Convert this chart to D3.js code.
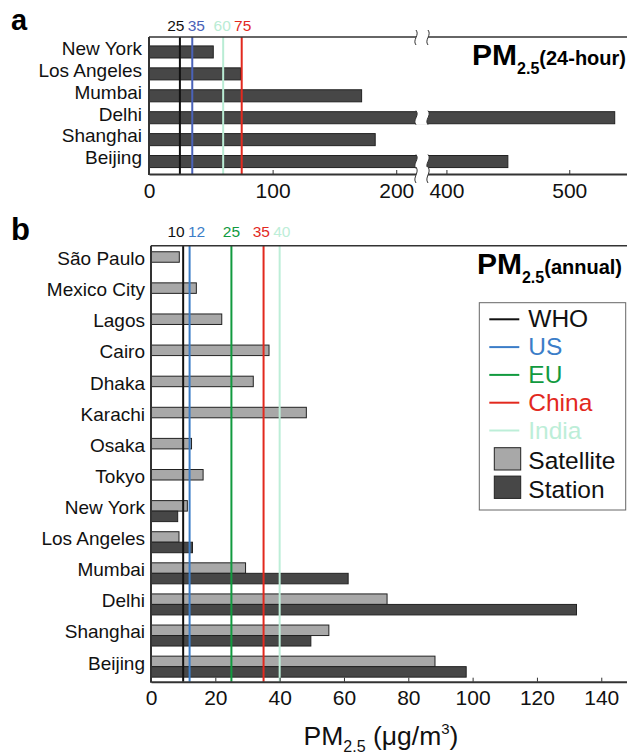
<!DOCTYPE html>
<html>
<head>
<meta charset="utf-8">
<script src="https://cdn.jsdelivr.net/npm/d3@7/dist/d3.min.js"></script>
<style>
  body { margin: 0; background: #fff; }
  svg { font-family: "Liberation Sans", Arial, Helvetica, sans-serif; }
  .axis .domain { stroke: #333; stroke-width: 2; }
  .axis .tick line { stroke: #333; stroke-width: 1; }
  .axis .tick text { font-size: 21px; fill: #111; }
  .ylab .tick text { font-size: 19px; fill: #111; }
</style>
</head>
<body>
<div id="chart"></div>
<script>
// ---- data ----

// panel a: 24-hour PM2.5 (station)
var cities24 = ["New York", "Los Angeles", "Mumbai", "Delhi", "Shanghai", "Beijing"];
var station24 = [52, 74, 172, 537, 183, 450];
var std24Values = [25, 35, 60, 75];
var std24Colors = ["#111111", "#4a62b8", "#b9ecd4", "#e2291e"];
var ticks24 = [0, 100, 200, 400, 500];

// panel b: annual PM2.5
var citiesAnn = ["São Paulo", "Mexico City", "Lagos", "Cairo", "Dhaka", "Karachi", "Osaka", "Tokyo",
                 "New York", "Los Angeles", "Mumbai", "Delhi", "Shanghai", "Beijing"];
var satelliteAnn = [8.8, 14.1, 22.0, 36.7, 31.8, 48.3, 12.6, 16.2, 11.3, 8.7, 29.4, 73.4, 55.3, 88.3];
var stationAnn = [null, null, null, null, null, null, null, null, 8.3, 12.9, 61.3, 132.3, 49.7, 98.0];
var stdAnnNames = ["WHO", "US", "EU", "China", "India"];
var stdAnnValues = [10, 12, 25, 35, 40];
var stdAnnColors = ["#111111", "#3b7dc8", "#119a3f", "#e2291e", "#bdeed8"];
var ticksAnn = [0, 20, 40, 60, 80, 100, 120, 140];

var satFill = "#a8a8a8", staFill = "#474747", barStroke = "#222";

var svg = d3.select("#chart").append("svg")
  .attr("width", 627).attr("height", 754);

// spread overlapping standard labels apart
function spreadLabels(xs, minGap) {
  var out = xs.slice();
  for (var i = 1; i < out.length; i++) {
    var gap = out[i] - out[i - 1];
    if (gap < minGap) {
      var s = (minGap - gap) / 2;
      out[i - 1] -= s; out[i] += s;
    }
  }
  return out;
}

// vertical S-shaped break mark
function squiggle(x, y0, y1) {
  var h = y1 - y0;
  return "M" + x + "," + y0 + " C" + (x + 4) + "," + (y0 + h * 0.35) + " " + (x - 4) + "," + (y0 + h * 0.65) + " " + x + "," + y1;
}
function gapShape(xl, xr, y0, y1) {
  var h = y1 - y0;
  return "M" + xl + "," + y0 + " C" + (xl + 4) + "," + (y0 + h * 0.35) + " " + (xl - 4) + "," + (y0 + h * 0.65) + " " + xl + "," + y1 +
    " L" + xr + "," + y1 + " C" + (xr - 4) + "," + (y0 + h * 0.65) + " " + (xr + 4) + "," + (y0 + h * 0.35) + " " + xr + "," + y0 + " Z";
}

// ================= panel a =================
var aTop = 37, aBot = 174, aLeft = 149;
var xA = d3.scaleLinear().domain([0, 216, 385, 547]).range([aLeft, 416, 428, 627]);
var yA = d3.scaleBand().domain(cities24).range([41, 172.5]).paddingInner(0.45).paddingOuter(0.225);

var gA = svg.append("g");

gA.selectAll(".barA")
  .data(cities24)
  .enter().append("rect")
  .attr("class", "barA")
  .attr("x", xA(0))
  .attr("y", function(d) { return yA(d); })
  .attr("width", function(d, i) { return xA(station24[i]) - xA(0); })
  .attr("height", yA.bandwidth())
  .attr("fill", staFill)
  .attr("stroke", barStroke)
  .attr("stroke-width", 1);

gA.selectAll(".stdA")
  .data(std24Values)
  .enter().append("line")
  .attr("x1", function(d) { return xA(d); })
  .attr("x2", function(d) { return xA(d); })
  .attr("y1", aTop).attr("y2", aBot)
  .attr("stroke", function(d, i) { return std24Colors[i]; })
  .attr("stroke-width", 2);

var labA = spreadLabels(std24Values.map(function(d) { return xA(d); }), 20.5);
gA.selectAll(".stdAlab")
  .data(std24Values)
  .enter().append("text")
  .attr("x", function(d, i) { return labA[i]; })
  .attr("y", 30.5)
  .attr("text-anchor", "middle")
  .attr("font-size", 15.5)
  .attr("fill", function(d, i) { return std24Colors[i]; })
  .text(function(d) { return d; });

// frame
gA.append("line").attr("x1", aLeft).attr("x2", 627).attr("y1", aTop).attr("y2", aTop)
  .attr("stroke", "#333").attr("stroke-width", 1.5);
gA.append("line").attr("x1", aLeft).attr("x2", aLeft).attr("y1", aTop).attr("y2", aBot + 1)
  .attr("stroke", "#333").attr("stroke-width", 2);

gA.append("g")
  .attr("class", "axis")
  .attr("transform", "translate(0," + aBot + ")")
  .call(d3.axisBottom(xA).tickValues(ticks24).tickSize(-4).tickSizeOuter(0).tickPadding(9));

gA.append("g")
  .attr("class", "ylab")
  .attr("transform", "translate(" + aLeft + ",0)")
  .call(d3.axisLeft(yA).tickSize(0).tickPadding(7))
  .call(function(g) { g.select(".domain").remove(); })
  .selectAll("text").attr("dy", "0.15em");

// axis breaks
var xl = xA(216), xr = xA(385);
var breaks = [[aTop - 7, aTop + 8]];
cities24.forEach(function(c, i) {
  if (station24[i] > 216) breaks.push([yA(c) - 1, yA(c) + yA.bandwidth() + 1]);
});
breaks.push([aBot - 7, aBot + 9]);
breaks.forEach(function(b) {
  gA.append("path").attr("d", gapShape(xl, xr, b[0], b[1])).attr("fill", "#fff");
  gA.append("path").attr("d", squiggle(xl, b[0], b[1])).attr("fill", "none").attr("stroke", "#333").attr("stroke-width", 1);
  gA.append("path").attr("d", squiggle(xr, b[0], b[1])).attr("fill", "none").attr("stroke", "#333").attr("stroke-width", 1);
});

gA.append("text")
  .attr("x", 626).attr("y", 65)
  .attr("text-anchor", "end")
  .attr("font-weight", "bold")
  .call(function(t) {
    t.append("tspan").attr("font-size", 30).text("PM");
    t.append("tspan").attr("font-size", 16).attr("dy", 9).text("2.5");
    t.append("tspan").attr("font-size", 20).attr("dy", -9).text("(24-hour)");
  });

svg.append("text").attr("x", 11).attr("y", 30).attr("font-size", 29).attr("font-weight", "bold").text("a");

// ================= panel b =================
var bTop = 245.7, bBot = 681.7, bLeft = 151;
var xB = d3.scaleLinear().domain([0, 148]).range([bLeft, 627]);
var yB = d3.scaleBand().domain(citiesAnn).range([246.7, 682.2]).paddingInner(0.325).paddingOuter(0.1625);
var ySub = d3.scaleBand().domain(["sat", "sta"]).range([0, yB.bandwidth()]);

var gB = svg.append("g");

gB.selectAll(".satB")
  .data(citiesAnn)
  .enter().append("rect")
  .attr("x", xB(0))
  .attr("y", function(d) { return yB(d) + ySub("sat"); })
  .attr("width", function(d, i) { return xB(satelliteAnn[i]) - xB(0); })
  .attr("height", ySub.bandwidth())
  .attr("fill", satFill)
  .attr("stroke", barStroke)
  .attr("stroke-width", 1);

gB.selectAll(".staB")
  .data(citiesAnn.filter(function(d, i) { return stationAnn[i] != null; }))
  .enter().append("rect")
  .attr("x", xB(0))
  .attr("y", function(d) { return yB(d) + ySub("sta"); })
  .attr("width", function(d) { return xB(stationAnn[citiesAnn.indexOf(d)]) - xB(0); })
  .attr("height", ySub.bandwidth())
  .attr("fill", staFill)
  .attr("stroke", barStroke)
  .attr("stroke-width", 1);

gB.selectAll(".stdB")
  .data(stdAnnValues)
  .enter().append("line")
  .attr("x1", function(d) { return xB(d); })
  .attr("x2", function(d) { return xB(d); })
  .attr("y1", bTop).attr("y2", bBot)
  .attr("stroke", function(d, i) { return stdAnnColors[i]; })
  .attr("stroke-width", 2);

var labB = spreadLabels(stdAnnValues.map(function(d) { return xB(d); }), 20.5);
gB.selectAll(".stdBlab")
  .data(stdAnnValues)
  .enter().append("text")
  .attr("x", function(d, i) { return labB[i]; })
  .attr("y", 237.3)
  .attr("text-anchor", "middle")
  .attr("font-size", 15.5)
  .attr("fill", function(d, i) { return stdAnnColors[i]; })
  .text(function(d) { return d; });

gB.append("line").attr("x1", bLeft).attr("x2", 627).attr("y1", bTop).attr("y2", bTop)
  .attr("stroke", "#333").attr("stroke-width", 1.5);
gB.append("line").attr("x1", bLeft).attr("x2", bLeft).attr("y1", bTop).attr("y2", bBot + 1)
  .attr("stroke", "#333").attr("stroke-width", 2);

gB.append("g")
  .attr("class", "axis")
  .attr("transform", "translate(0," + bBot + ")")
  .call(d3.axisBottom(xB).tickValues(ticksAnn).tickSize(-4).tickSizeOuter(0).tickPadding(8.5));

gB.append("g")
  .attr("class", "ylab")
  .attr("transform", "translate(" + bLeft + ",0)")
  .call(d3.axisLeft(yB).tickSize(0).tickPadding(6))
  .call(function(g) { g.select(".domain").remove(); })
  .selectAll("text").attr("dy", "0.15em")
  .attr("transform", "translate(0," + (ySub.bandwidth() - yB.bandwidth() / 2) + ")");

gB.append("text")
  .attr("x", 622).attr("y", 274)
  .attr("text-anchor", "end")
  .attr("font-weight", "bold")
  .call(function(t) {
    t.append("tspan").attr("font-size", 30).text("PM");
    t.append("tspan").attr("font-size", 16).attr("dy", 9).text("2.5");
    t.append("tspan").attr("font-size", 20).attr("dy", -9).text("(annual)");
  });

svg.append("text").attr("x", 11).attr("y", 240).attr("font-size", 31).attr("font-weight", "bold").text("b");

// x axis title
svg.append("text")
  .attr("x", 381).attr("y", 745)
  .attr("text-anchor", "middle")
  .attr("fill", "#111")
  .call(function(t) {
    t.append("tspan").attr("font-size", 26.5).text("PM");
    t.append("tspan").attr("font-size", 16).attr("dy", 7).text("2.5");
    t.append("tspan").attr("font-size", 26.5).attr("dy", -7).text(" (μg/m");
    t.append("tspan").attr("font-size", 15).attr("dy", -11).text("3");
    t.append("tspan").attr("font-size", 26.5).attr("dy", 11).text(")");
  });

// legend
var leg = gB.append("g").attr("transform", "translate(479.3,302.7)");
leg.append("rect").attr("width", 146.4).attr("height", 207.3)
  .attr("fill", "#fff").attr("stroke", "#666").attr("stroke-width", 1);

var legLines = leg.selectAll(".legline")
  .data(stdAnnNames)
  .enter().append("g")
  .attr("transform", function(d, i) { return "translate(0," + (24.6 + i * 27.8) + ")"; });
legLines.append("line").attr("x1", 10).attr("x2", 40).attr("y1", -8).attr("y2", -8)
  .attr("stroke", function(d, i) { return stdAnnColors[i]; }).attr("stroke-width", 2);
legLines.append("text").attr("x", 49).attr("font-size", 24.5)
  .attr("fill", function(d, i) { return stdAnnColors[i]; })
  .text(function(d) { return d; });

var legBoxes = leg.selectAll(".legbox")
  .data([["Satellite", satFill], ["Station", staFill]])
  .enter().append("g")
  .attr("transform", function(d, i) { return "translate(0," + (166.6 + i * 28.4) + ")"; });
legBoxes.append("rect").attr("x", 15).attr("y", -21.6).attr("width", 26.4).attr("height", 22.3)
  .attr("fill", function(d) { return d[1]; }).attr("stroke", barStroke).attr("stroke-width", 1);
legBoxes.append("text").attr("x", 49).attr("font-size", 24.5).attr("fill", "#111")
  .text(function(d) { return d[0]; });
</script>
</body>
</html>
